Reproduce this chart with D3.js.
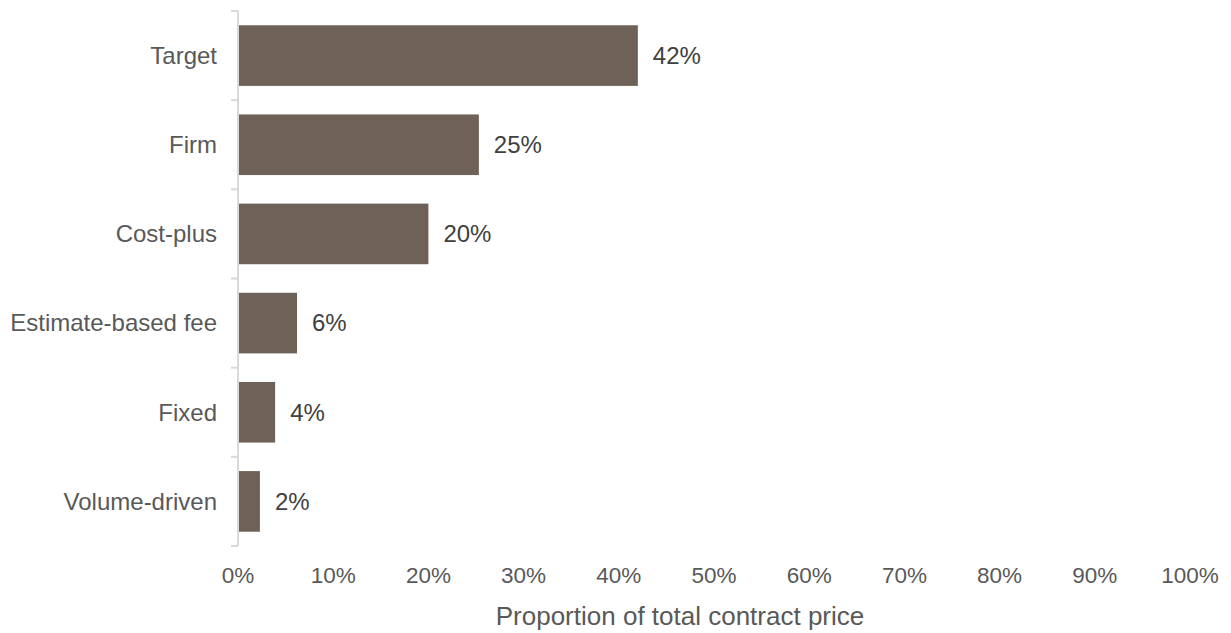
<!DOCTYPE html>
<html>
<head>
<meta charset="utf-8">
<script src="https://cdn.jsdelivr.net/npm/d3@7"></script>
<style>
  body { margin: 0; background: #fff; }
  text { font-family: "Liberation Sans", Arial, sans-serif; }
</style>
</head>
<body>
<div id="chart"></div>
<script>
const categories = ['Target', 'Firm', 'Cost-plus', 'Estimate-based fee', 'Fixed', 'Volume-driven'];
const values = [42, 25.3, 20, 6.2, 3.9, 2.3];
const xTicks = [0, 10, 20, 30, 40, 50, 60, 70, 80, 90, 100];
const xTitle = 'Proportion of total contract price';

const W = 1231, H = 633;
const plotLeft = 238, plotRight = 1190, plotTop = 11, plotBottom = 546;

const svg = d3.select('#chart').append('svg').attr('width', W).attr('height', H);

const x = d3.scaleLinear().domain([0, 100]).range([plotLeft, plotRight]);
const y = d3.scaleBand().domain(categories).range([plotTop, plotBottom]).paddingInner(0.32).paddingOuter(0.16);

// bars
svg.selectAll('rect.bar').data(categories).enter().append('rect')
    .attr('class', 'bar')
    .attr('x', x(0) + 1)
    .attr('y', d => y(d))
    .attr('width', (d, i) => x(values[i]) - x(0) - 1)
    .attr('height', y.bandwidth())
    .attr('fill', '#6e6157');

// value labels
svg.selectAll('text.val').data(categories).enter().append('text')
    .attr('class', 'val')
    .attr('x', (d, i) => x(values[i]) + 15)
    .attr('y', d => y(d) + y.bandwidth() / 2)
    .attr('dy', '0.35em')
    .attr('fill', '#404040')
    .style('font-size', '24px')
    .text((d, i) => Math.round(values[i]) + '%');

// y axis line and ticks (band edges)
const axis = svg.append('g');
axis.append('line').attr('x1', plotLeft).attr('x2', plotLeft).attr('y1', plotTop).attr('y2', plotBottom)
    .attr('stroke', '#d9d9d9').attr('stroke-width', 2);
const edges = d3.range(categories.length + 1).map(i => plotTop + i * (plotBottom - plotTop) / categories.length);
axis.selectAll('line.tick').data(edges).enter().append('line')
    .attr('class', 'tick')
    .attr('x1', plotLeft - 7).attr('x2', plotLeft)
    .attr('y1', d => d).attr('y2', d => d)
    .attr('stroke', '#d9d9d9').attr('stroke-width', 2);

// category labels
svg.selectAll('text.cat').data(categories).enter().append('text')
    .attr('class', 'cat')
    .attr('x', plotLeft - 21)
    .attr('y', d => y(d) + y.bandwidth() / 2)
    .attr('dy', '0.35em')
    .attr('text-anchor', 'end')
    .attr('fill', '#595959')
    .style('font-size', '24px')
    .text(d => d);

// x tick labels
svg.selectAll('text.xt').data(xTicks).enter().append('text')
    .attr('class', 'xt')
    .attr('x', d => x(d))
    .attr('y', 575)
    .attr('dy', '0.35em')
    .attr('text-anchor', 'middle')
    .attr('fill', '#595959')
    .style('font-size', '22.5px')
    .text(d => d + '%');

// x title
svg.append('text')
    .attr('x', 680)
    .attr('y', 616)
    .attr('dy', '0.35em')
    .attr('text-anchor', 'middle')
    .attr('fill', '#595959')
    .style('font-size', '26px')
    .text(xTitle);
</script>
</body>
</html>
